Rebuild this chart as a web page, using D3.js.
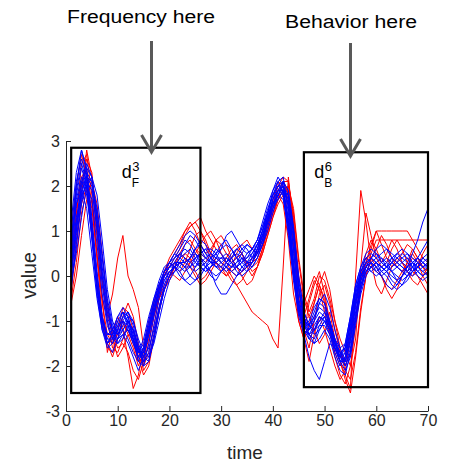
<!DOCTYPE html>
<html>
<head>
<meta charset="utf-8">
<script src="https://cdn.jsdelivr.net/npm/d3@7"></script>
<style>
    body { margin: 0; background: #fff; }
    svg { display: block; font-family: "Liberation Sans", Arial, sans-serif; }
    .axis path, .axis line { stroke: #262626; stroke-width: 1; }
    .axis text { fill: #262626; font-size: 16px; font-family: "Liberation Sans", Arial, sans-serif; }
</style>
</head>
<body>
<script>
(function () {
    // Tick values for both axes
    var xTicks = [0, 10, 20, 30, 40, 50, 60, 70];
    var yTicks = [-3, -2, -1, 0, 1, 2, 3];

    // Time index for every sample (1..70)
    var timeSteps = d3.range(1, 71);

    // Red trials (70 samples each)
    var redRuns = [
        [-0.3, 0.6, 1.8, 2.8, 2.2, 0.9, -0.5, -1.7, -1.2, -0.9,
         -1.2, -1.8, -2.5, -2.2, -1.6, -1.0, -0.6, -0.2, 0.0, 0.2,
         0.4, 0.6, 0.9, 1.1, 1.2, 1.0, 0.7, 0.4, 0.3, 0.1,
         0.0, 0.1, 0.2, 0.0, -0.2, -0.1, 0.2, 0.6, 1.1, 1.6,
         2.0, 2.2, 2.1, 1.2, 0.0, -0.6, -0.3, 0.0, -0.2, -0.6,
         -1.2, -1.8, -2.2, -2.4, -2.0, -1.1, -0.3, 0.2, 0.5, 0.8,
         0.8, 0.8, 0.8, 0.8, 0.8, 0.8, 0.8, 0.8, 0.8, 0.8],
        [0.0, 0.9, 1.6, 2.0, 1.5, 0.4, -0.5, -0.9, -0.4, 0.4,
         0.9, 0.0, -0.3, -0.7, -1.6, -1.3, -0.8, -0.5, -0.3, -0.1,
         0.2, 0.5, 0.7, 0.8, 0.6, 0.4, 0.3, 0.5, 0.8, 0.9,
         0.7, 0.4, 0.2, 0.1, 0.2, 0.3, 0.4, 0.7, 1.0, 1.4,
         1.7, 1.9, 2.0, 1.4, 0.3, -0.5, -0.9, -0.6, -0.2, 0.1,
         -0.3, -1.0, -1.6, -2.0, -1.7, -0.9, -0.1, 0.3, 0.6, 1.0,
         1.0, 1.0, 1.0, 1.0, 1.0, 1.0, 0.8, 0.6, 0.4, 0.3],
        [0.4, 1.4, 2.2, 2.4, 1.6, 0.5, -0.6, -1.3, -1.5, -1.3,
         -1.1, -1.2, -1.5, -1.9, -1.8, -1.4, -0.9, -0.5, -0.2, 0.0,
         0.2, 0.3, 0.2, 0.4, 0.6, 0.5, 0.4, 0.3, 0.3, 0.2,
         0.1, -0.1, -0.2, -0.4, -0.6, -0.8, -0.9, -1.0, -1.1, -1.4,
         -1.6, 0.2, 2.2, 1.1, -0.8, -1.3, -0.6, -0.2, 0.1, -0.4,
         -1.0, -1.5, -1.7, -1.9, -1.3, -0.6, 0.0, 0.3, 0.2, 0.1,
         0.0, -0.2, -0.3, -0.1, 0.1, 0.2, 0.4, 0.3, 0.2, 0.1],
        [0.2, 1.1, 2.0, 2.6, 2.3, 1.2, -0.1, -1.0, -1.6, -1.7,
         -1.4, -1.0, -1.2, -1.6, -2.0, -1.7, -1.1, -0.5, 0.0, 0.3,
         0.5, 0.7, 1.0, 1.2, 1.0, 0.7, 0.5, 0.6, 0.8, 0.7,
         0.5, 0.3, 0.4, 0.5, 0.3, 0.2, 0.3, 0.6, 1.0, 1.5,
         1.9, 2.1, 1.8, 0.7, -0.3, -0.9, -0.5, -0.1, -0.3, -0.8,
         -1.3, -1.6, -1.9, -2.2, -2.5, 0.0, 1.9, 1.2, 0.3, -0.2,
         -0.4, -0.1, 0.2, 0.4, 0.3, 0.1, -0.1, -0.2, 0.0, 0.2],
        [-0.5, 0.3, 1.4, 1.9, 1.7, 0.9, -0.1, -0.8, -1.3, -1.6,
         -1.5, -1.7, -2.1, -2.3, -1.9, -1.2, -0.6, -0.2, 0.0, 0.1,
         0.0, -0.1, 0.1, 0.3, 0.5, 0.7, 0.9, 1.0, 0.8, 0.5,
         0.3, 0.4, 0.6, 0.5, 0.3, 0.1, 0.2, 0.5, 0.9, 1.3,
         1.6, 1.8, 2.0, 1.5, 0.4, -0.4, -0.8, -0.5, 0.0, -0.1,
         -0.5, -1.0, -1.4, -1.7, -2.0, -1.4, 0.2, 1.4, 0.9, 0.4,
         0.2, 0.3, 0.6, 0.8, 0.6, 0.3, 0.1, 0.0, -0.2, -0.4],
        [0.1, 1.3, 2.5, 2.7, 1.8, 0.4, -0.9, -1.5, -1.8, -1.4,
         -0.9, -0.6, -0.9, -1.5, -2.1, -1.9, -1.3, -0.7, -0.3, 0.0,
         0.3, 0.5, 0.4, 0.2, 0.0, -0.2, -0.1, 0.1, 0.3, 0.2,
         0.0, 0.2, 0.5, 0.7, 0.8, 0.6, 0.5, 0.8, 1.2, 1.7,
         2.1, 2.0, 1.2, 0.0, -1.0, -1.4, -1.1, -0.6, -0.2, -0.5,
         -1.1, -1.7, -2.0, -1.8, -1.2, -0.6, -0.1, 0.3, 0.7, 1.0,
         0.7, 0.4, 0.2, 0.3, 0.5, 0.7, 0.6, 0.4, 0.2, 0.0],
        [0.6, 1.5, 2.1, 2.0, 1.1, 0.0, -1.0, -1.6, -1.7, -1.2,
         -0.7, -0.8, -1.2, -1.7, -1.9, -1.5, -0.9, -0.4, 0.1, 0.4,
         0.6, 0.8, 1.0, 1.1, 1.2, 1.3, 1.0, 0.8, 0.6, 0.5,
         0.3, 0.1, 0.0, 0.1, 0.2, 0.4, 0.5, 0.8, 1.2, 1.6,
         1.8, 1.6, 0.8, -0.4, -1.0, -1.4, -1.9, -1.3, -0.9, -1.2,
         -1.6, -2.0, -2.3, -2.1, -1.4, -0.6, 0.0, 0.5, 0.8, 0.6,
         0.3, 0.5, 0.8, 0.6, 0.3, 0.1, 0.0, 0.2, 0.5, 0.7],
        [-0.6, 0.0, 0.9, 1.7, 2.1, 1.6, 0.5, -0.6, -1.4, -1.8,
         -1.6, -1.3, -1.4, -1.8, -2.2, -2.0, -1.4, -0.8, -0.3, 0.0,
         0.1, 0.3, 0.5, 0.4, 0.1, -0.1, 0.0, 0.2, 0.4, 0.3,
         0.2, 0.0, -0.2, -0.1, 0.1, 0.3, 0.6, 0.9, 1.1, 1.4,
         1.7, 2.1, 2.1, 1.3, -0.3, -1.2, -1.6, -1.0, -0.4, -0.2,
         -0.6, -1.2, -1.7, -2.1, -2.3, -1.7, -0.7, 0.0, 0.4, 0.2,
         0.0, -0.3, -0.5, -0.3, 0.0, 0.3, 0.6, 0.4, 0.2, 0.3],
        [1.0, 2.0, 2.7, 2.2, 1.0, -0.2, -1.1, -1.5, -1.3, -1.0,
         -1.0, -1.3, -1.6, -2.0, -1.7, -1.2, -0.7, -0.3, 0.1, 0.3,
         0.2, 0.1, 0.3, 0.6, 0.9, 1.0, 0.8, 0.5, 0.3, 0.2,
         0.4, 0.6, 0.7, 0.5, 0.2, 0.0, 0.2, 0.5, 0.9, 1.3,
         1.7, 1.9, 1.7, 0.6, -0.5, -1.0, -0.9, -1.2, -1.5, -1.3,
         -0.8, -1.4, -1.9, -2.3, -2.6, -1.8, -0.8, 0.0, 0.4, 0.6,
         0.9, 0.7, 0.4, 0.2, 0.1, 0.3, 0.5, 0.3, 0.0, -0.2]
    ];

    // Blue trials (70 samples each)
    var blueRuns = [
        [0.5, 2.0, 2.8, 2.3, 1.2, 0.0, -0.9, -1.3, -1.2, -0.9,
         -0.8, -1.1, -1.5, -1.8, -1.6, -1.1, -0.6, -0.2, 0.1, 0.3,
         0.4, 0.5, 0.4, 0.3, 0.4, 0.5, 0.6, 0.4, 0.2, 0.3,
         0.4, 0.3, 0.2, 0.3, 0.5, 0.6, 0.8, 1.1, 1.5, 1.8,
         2.1, 2.2, 1.5, 0.3, -0.6, -1.1, -1.2, -1.0, -0.8, -0.9,
         -1.2, -1.6, -1.9, -1.7, -1.0, -0.3, 0.1, 0.3, 0.4, 0.3,
         0.2, 0.3, 0.4, 0.3, 0.2, 0.1, 0.2, 0.3, 0.4, 0.3],
        [0.0, 1.0, 1.9, 2.2, 2.0, 1.0, -0.2, -1.0, -1.4, -1.5,
         -1.3, -1.2, -1.4, -1.9, -2.0, -1.5, -0.9, -0.4, 0.0, 0.2,
         0.3, 0.2, 0.1, 0.2, 0.4, 0.5, 0.4, 0.3, 0.2, 0.1,
         0.2, 0.4, 0.6, 0.7, 0.6, 0.4, 0.5, 0.8, 1.3, 1.7,
         1.9, 1.8, 1.0, 0.0, -0.8, -1.2, -1.4, -1.2, -0.9, -1.0,
         -1.3, -1.7, -2.0, -1.8, -1.2, -0.5, 0.0, 0.2, 0.1, 0.2,
         0.3, 0.4, 0.3, 0.2, 0.1, 0.0, 0.1, 0.2, 0.3, 0.2],
        [0.8, 1.8, 2.4, 2.0, 0.8, -0.4, -1.2, -1.5, -1.7, -1.4,
         -1.0, -1.1, -1.4, -1.7, -1.5, -1.0, -0.5, -0.1, 0.2, 0.3,
         0.2, 0.4, 0.7, 0.9, 0.8, 0.6, 0.4, 0.3, 0.3, 0.4,
         0.5, 0.4, 0.2, 0.1, 0.2, 0.4, 0.7, 1.0, 1.4, 1.8,
         2.0, 1.9, 1.2, 0.2, -0.7, -1.0, -1.1, -0.8, -0.5, -0.6,
         -1.0, -1.5, -1.7, -1.6, -1.1, -0.4, 0.1, 0.4, 0.5, 0.4,
         0.3, 0.2, 0.1, 0.0, -0.1, 0.0, 0.2, 0.4, 0.6, 0.8],
        [0.2, 1.2, 2.1, 2.5, 2.2, 1.2, 0.1, -0.8, -1.2, -1.3,
         -1.0, -0.8, -1.1, -1.6, -1.9, -1.7, -1.1, -0.5, -0.1, 0.1,
         0.2, 0.1, -0.1, -0.2, -0.1, 0.1, 0.2, 0.1, -0.2, -0.4,
         -0.4, -0.2, 0.0, 0.2, 0.3, 0.3, 0.5, 0.9, 1.3, 1.7,
         1.9, 2.0, 1.7, 0.8, -0.3, -0.9, -1.3, -1.4, -1.1, -0.9,
         -1.1, -1.5, -1.8, -1.9, -1.4, -0.7, -0.1, 0.2, 0.3, 0.2,
         0.0, -0.2, -0.3, -0.2, 0.0, 0.2, 0.3, 0.2, 0.1, 0.2],
        [-0.1, 0.5, 1.3, 2.0, 2.2, 1.8, 0.8, -0.3, -1.0, -1.3,
         -1.2, -1.0, -1.2, -1.6, -1.8, -1.9, -1.4, -0.8, -0.3, 0.0,
         0.2, 0.3, 0.3, 0.4, 0.6, 0.8, 0.7, 0.5, 0.4, 0.4,
         0.3, 0.2, 0.3, 0.5, 0.7, 0.6, 0.5, 0.7, 1.1, 1.5,
         1.8, 2.1, 1.9, 1.0, -0.1, -0.8, -1.1, -1.3, -1.2, -1.0,
         -1.0, -1.4, -1.7, -2.0, -1.6, -0.9, -0.3, 0.1, 0.3, 0.4,
         0.5, 0.6, 0.5, 0.4, 0.3, 0.2, 0.1, 0.2, 0.4, 0.5],
        [1.0, 2.1, 2.6, 2.2, 1.0, -0.3, -1.1, -1.5, -1.3, -0.9,
         -0.7, -0.9, -1.4, -1.8, -1.7, -1.2, -0.7, -0.3, 0.0, 0.2,
         0.4, 0.6, 0.8, 0.7, 0.5, 0.3, 0.2, 0.3, 0.5, 0.7,
         0.8, 0.6, 0.4, 0.3, 0.2, 0.3, 0.6, 1.0, 1.4, 1.9,
         2.1, 1.8, 0.9, -0.1, -0.9, -1.3, -1.2, -0.9, -0.6, -0.7,
         -1.1, -1.6, -1.8, -1.5, -0.9, -0.2, 0.2, 0.4, 0.3, 0.1,
         0.0, 0.1, 0.3, 0.5, 0.4, 0.3, 0.2, 0.1, 0.0, 0.1],
        [0.4, 1.3, 1.8, 2.0, 1.7, 0.7, -0.4, -1.1, -1.4, -1.4,
         -1.3, -1.5, -1.8, -2.1, -1.8, -1.3, -0.8, -0.4, -0.1, 0.1,
         0.2, 0.3, 0.2, 0.2, 0.3, 0.5, 0.6, 0.6, 0.5, 0.3,
         0.2, 0.1, 0.2, 0.4, 0.4, 0.5, 0.7, 1.0, 1.3, 1.6,
         1.8, 1.7, 1.1, 0.1, -0.7, -1.1, -1.3, -1.5, -1.4, -1.2,
         -1.4, -1.8, -2.1, -2.2, -1.7, -0.9, -0.2, 0.1, 0.2, 0.3,
         0.4, 0.3, 0.1, -0.1, -0.2, -0.1, 0.1, 0.3, 0.2, 0.2],
        [-0.2, 0.8, 1.7, 2.1, 1.9, 1.1, 0.0, -0.9, -1.3, -1.2,
         -0.9, -0.8, -1.0, -1.5, -1.8, -1.6, -1.2, -0.7, -0.3, 0.0,
         0.3, 0.5, 0.6, 0.5, 0.3, 0.2, 0.1, 0.2, 0.4, 0.6,
         0.9, 1.0, 0.8, 0.6, 0.5, 0.6, 0.8, 1.1, 1.4, 1.6,
         1.7, 1.9, 1.6, 0.6, -0.6, -1.3, -1.8, -2.1, -2.3, -1.9,
         -1.5, -1.6, -1.8, -1.7, -1.2, -0.5, 0.0, 0.2, 0.1, 0.0,
         0.1, 0.2, 0.4, 0.5, 0.6, 0.5, 0.3, 0.2, 0.3, 0.4],
        [0.6, 1.7, 2.2, 1.9, 0.9, -0.2, -1.0, -1.3, -1.3, -1.1,
         -1.0, -1.2, -1.5, -1.7, -1.4, -0.9, -0.5, -0.2, 0.1, 0.3,
         0.5, 0.4, 0.3, 0.4, 0.6, 0.7, 0.5, 0.3, 0.2, 0.2,
         0.3, 0.5, 0.6, 0.5, 0.3, 0.2, 0.4, 0.7, 1.2, 1.7,
         2.0, 2.1, 1.4, 0.3, -0.6, -1.0, -1.1, -0.9, -0.7, -0.8,
         -1.1, -1.5, -1.8, -1.6, -1.0, -0.3, 0.1, 0.3, 0.2, 0.1,
         0.2, 0.1, -0.1, -0.2, 0.0, 0.2, 0.5, 0.8, 1.2, 1.5],
        [1.2, 2.3, 2.8, 2.4, 1.3, 0.1, -0.9, -1.4, -1.5, -1.2,
         -0.9, -1.0, -1.3, -1.7, -1.7, -1.3, -0.8, -0.3, 0.0, 0.2,
         0.3, 0.3, 0.2, 0.0, -0.1, 0.0, 0.2, 0.4, 0.6, 0.5,
         0.3, 0.2, 0.2, 0.3, 0.4, 0.6, 0.8, 1.2, 1.6, 1.9,
         2.2, 2.0, 1.1, 0.0, -0.8, -1.2, -1.3, -1.1, -0.9, -1.0,
         -1.2, -1.5, -1.7, -1.6, -1.1, -0.4, 0.0, 0.2, 0.4, 0.5,
         0.4, 0.2, 0.1, 0.2, 0.3, 0.4, 0.3, 0.1, 0.0, 0.1],
        [0.1, 1.0, 1.8, 2.3, 2.1, 1.4, 0.4, -0.6, -1.2, -1.5,
         -1.4, -1.1, -1.2, -1.6, -1.9, -1.8, -1.3, -0.7, -0.2, 0.1,
         0.2, 0.1, 0.2, 0.4, 0.5, 0.4, 0.2, 0.0, -0.1, 0.1,
         0.3, 0.4, 0.5, 0.4, 0.2, 0.3, 0.6, 0.9, 1.2, 1.5,
         1.7, 1.9, 1.8, 1.0, -0.2, -0.9, -1.2, -1.0, -0.6, -0.4,
         -0.7, -1.2, -1.6, -1.9, -1.5, -0.8, -0.2, 0.2, 0.3, 0.2,
         0.1, 0.2, 0.3, 0.2, 0.1, 0.2, 0.3, 0.4, 0.3, 0.2],
        [0.3, 1.6, 2.1, 1.8, 0.9, -0.2, -1.0, -1.4, -1.4, -1.2,
         -1.2, -1.4, -1.7, -1.9, -1.6, -1.1, -0.6, -0.2, 0.1, 0.3,
         0.5, 0.7, 0.9, 1.0, 0.9, 0.7, 0.5, 0.4, 0.5, 0.6,
         0.7, 0.6, 0.4, 0.2, 0.1, 0.2, 0.4, 0.7, 1.0, 1.4,
         1.8, 2.0, 1.6, 0.5, -0.5, -1.0, -1.1, -1.2, -1.0, -0.9,
         -1.2, -1.6, -1.9, -1.8, -1.3, -0.6, -0.1, 0.2, 0.4, 0.6,
         0.7, 0.6, 0.4, 0.3, 0.4, 0.5, 0.4, 0.3, 0.2, 0.3],
        [0.2, 1.1, 2.0, 2.4, 2.2, 1.3, 0.2, -0.7, -1.2, -1.4,
         -1.2, -1.0, -1.2, -1.6, -2.0, -1.9, -1.4, -0.8, -0.3, 0.0,
         0.1, 0.2, 0.4, 0.3, 0.2, 0.3, 0.4, 0.5, 0.4, 0.3,
         0.2, 0.3, 0.4, 0.6, 0.7, 0.6, 0.7, 0.9, 1.2, 1.5,
         1.9, 2.1, 1.9, 1.1, 0.0, -0.8, -1.1, -1.2, -1.1, -1.1,
         -1.3, -1.6, -1.9, -2.1, -1.8, -1.1, -0.4, 0.0, 0.2, 0.3,
         0.2, 0.1, 0.0, -0.1, 0.0, 0.1, 0.3, 0.4, 0.3, 0.2],
        [0.9, 1.6, 1.9, 1.5, 0.5, -0.5, -1.2, -1.6, -1.5, -1.1,
         -0.8, -0.9, -1.3, -1.7, -1.6, -1.2, -0.7, -0.3, 0.0, 0.1,
         0.2, 0.4, 0.5, 0.6, 0.4, 0.2, 0.1, 0.2, 0.3, 0.4,
         0.4, 0.3, 0.1, 0.0, 0.1, 0.3, 0.5, 0.8, 1.2, 1.6,
         1.9, 1.9, 1.2, 0.1, -0.7, -1.1, -1.0, -0.7, -0.5, -0.6,
         -1.0, -1.4, -1.6, -1.5, -0.9, -0.2, 0.2, 0.5, 0.6, 0.5,
         0.3, 0.2, 0.3, 0.4, 0.5, 0.4, 0.2, 0.0, -0.1, 0.0],
        [-0.3, 0.7, 1.6, 2.2, 2.1, 1.5, 0.5, -0.5, -1.1, -1.3,
         -1.1, -0.9, -1.0, -1.4, -1.7, -1.8, -1.5, -1.0, -0.5, -0.1,
         0.1, 0.3, 0.3, 0.2, 0.1, 0.2, 0.3, 0.4, 0.3, 0.2,
         0.1, 0.2, 0.3, 0.4, 0.3, 0.4, 0.6, 0.9, 1.3, 1.6,
         1.8, 2.0, 1.8, 0.9, -0.3, -1.0, -1.4, -1.5, -1.2, -1.0,
         -1.1, -1.4, -1.8, -2.0, -1.7, -1.0, -0.3, 0.1, 0.2, 0.3,
         0.2, 0.1, 0.2, 0.3, 0.2, 0.1, 0.0, 0.1, 0.2, 0.3],
        [0.7, 1.9, 2.5, 2.1, 1.0, -0.2, -1.1, -1.5, -1.4, -1.0,
         -0.8, -1.0, -1.4, -1.8, -1.8, -1.3, -0.8, -0.3, 0.1, 0.2,
         0.2, 0.0, -0.1, 0.0, 0.2, 0.4, 0.3, 0.1, 0.0, 0.1,
         0.2, 0.1, 0.0, 0.1, 0.3, 0.5, 0.7, 1.0, 1.4, 1.8,
         2.0, 1.9, 1.3, 0.2, -0.7, -1.2, -1.3, -1.2, -1.0, -0.8,
         -1.0, -1.5, -1.9, -1.9, -1.4, -0.6, 0.0, 0.3, 0.4, 0.3,
         0.1, 0.0, -0.2, -0.3, -0.2, 0.0, 0.1, 0.2, 0.1, 0.0]
    ];

    // Highlight boxes in data units: [t0, t1, v0, v1]
    var freqBox = [1, 26, -2.6, 2.85];
    var behavBox = [46, 70, -2.47, 2.75];

    // Canvas
    var width = 450,
        height = 462;

    var svg = d3.select('body')
        .append('svg')
        .attr('width', width)
        .attr('height', height);

    // Scales matching the plotting area of the original figure
    var xScale = d3.scaleLinear()
        .domain([0, 70])
        .range([66, 428]);

    var yScale = d3.scaleLinear()
        .domain([-3, 3])
        .range([411, 141]);

    var line = d3.line()
        .x(function (d, i) { return xScale(timeSteps[i]); })
        .y(function (d) { return yScale(d); });

    // Red trials first, blue drawn on top
    svg.selectAll('.redRun')
        .data(redRuns)
        .enter()
        .append('path')
        .attr('class', 'redRun')
        .attr('d', line)
        .attr('fill', 'none')
        .attr('stroke', '#ff0000')
        .attr('stroke-width', 1);

    svg.selectAll('.blueRun')
        .data(blueRuns)
        .enter()
        .append('path')
        .attr('class', 'blueRun')
        .attr('d', line)
        .attr('fill', 'none')
        .attr('stroke', '#0000ff')
        .attr('stroke-width', 1);

    // Axes, ticks pointing inwards
    var xAxis = d3.axisBottom(xScale)
        .tickValues(xTicks)
        .tickSizeInner(-5)
        .tickSizeOuter(0)
        .tickPadding(4)
        .tickFormat(function (d) { return String(d); });

    var yAxis = d3.axisLeft(yScale)
        .tickValues(yTicks)
        .tickSizeInner(-5)
        .tickSizeOuter(0)
        .tickPadding(6)
        .tickFormat(function (d) { return String(d); });

    svg.append('g')
        .attr('class', 'axis')
        .attr('transform', 'translate(0,' + yScale(-3) + ')')
        .call(xAxis);

    svg.append('g')
        .attr('class', 'axis')
        .attr('transform', 'translate(' + xScale(0) + ',0)')
        .call(yAxis);

    // Axis labels
    svg.append('text')
        .attr('x', 245)
        .attr('y', 459)
        .attr('text-anchor', 'middle')
        .attr('fill', '#262626')
        .style('font-size', '19px')
        .text('time');

    svg.append('text')
        .attr('transform', 'translate(35.5,' + (yScale(0) - 0.5) + ') rotate(-90)')
        .attr('text-anchor', 'middle')
        .attr('fill', '#262626')
        .style('font-size', '19.5px')
        .text('value');

    // Highlight boxes
    [freqBox, behavBox].forEach(function (b) {
        svg.append('rect')
            .attr('x', xScale(b[0]))
            .attr('y', yScale(b[3]))
            .attr('width', xScale(b[1]) - xScale(b[0]))
            .attr('height', yScale(b[2]) - yScale(b[3]))
            .attr('fill', 'none')
            .attr('stroke', '#000')
            .attr('stroke-width', 2.2);
    });

    // Box labels d_F^3 and d_B^6
    function boxLabel(t, sub, sup) {
        var g = svg.append('g')
            .attr('transform', 'translate(' + xScale(t) + ',' + yScale(2.18) + ')');
        g.append('text')
            .attr('x', 0)
            .attr('y', 0)
            .style('font-size', '18px')
            .attr('fill', '#000')
            .text('d');
        g.append('text')
            .attr('x', 10.5)
            .attr('y', -7)
            .style('font-size', '13px')
            .attr('fill', '#000')
            .text(sup);
        g.append('text')
            .attr('x', 10)
            .attr('y', 9)
            .style('font-size', '12px')
            .attr('fill', '#000')
            .text(sub);
    }
    boxLabel(10.8, 'F', '3');
    boxLabel(48.0, 'B', '6');

    // Annotation text with arrows pointing into the boxes
    function annotate(label, cx, baseY, textW, arrowX, topY, tipY) {
        svg.append('text')
            .attr('x', cx - textW / 2)
            .attr('y', baseY)
            .attr('textLength', textW)
            .attr('lengthAdjust', 'spacingAndGlyphs')
            .style('font-size', '18px')
            .attr('fill', '#000')
            .text(label);

        svg.append('line')
            .attr('x1', arrowX).attr('y1', topY)
            .attr('x2', arrowX).attr('y2', tipY - 1)
            .attr('stroke', '#595959')
            .attr('stroke-width', 3);

        svg.append('path')
            .attr('d', 'M' + (arrowX - 10) + ',' + (tipY - 17) +
                'L' + arrowX + ',' + tipY +
                'L' + (arrowX + 10) + ',' + (tipY - 17))
            .attr('fill', 'none')
            .attr('stroke', '#595959')
            .attr('stroke-width', 3)
            .attr('stroke-linejoin', 'miter');
    }
    annotate('Frequency here', 141, 23, 148, 151.5, 41, 152);
    annotate('Behavior here', 351, 28, 132, 350.5, 43, 156);
})();
</script>
</body>
</html>
